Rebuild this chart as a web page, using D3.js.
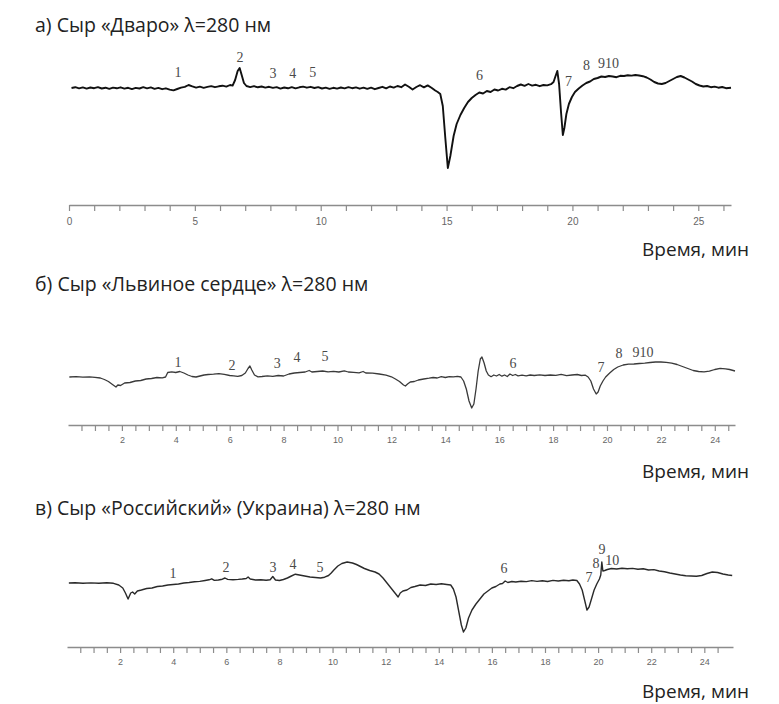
<!DOCTYPE html>
<html>
<head>
<meta charset="utf-8">
<script src="https://cdn.jsdelivr.net/npm/d3@7"></script>
<style>
  body { margin: 0; background: #fff; }
</style>
</head>
<body>
<div id="chart"></div>
<script>
// chromatogram traces, [time min, signal]
let traceA = [[0.1,0],[0.25,0.8],[0.4,-0.4],[0.55,0.6],[0.7,-0.6],[0.85,0.5],[1.0,-0.2],[1.15,0.9],[1.3,-0.5],[1.45,0.3],[1.6,-0.9],[1.75,0.4],[1.9,-0.3],[2.05,0.7],[2.2,-0.6],[2.35,0.2],[2.5,-1.1],[2.65,0.1],[2.8,-0.5],[2.95,0.8],[3.1,-0.3],[3.25,0.6],[3.4,-0.8],[3.55,0.1],[3.7,-1.2],[3.85,-0.3],[4.0,-1.6],[4.15,-2.4],[4.3,-1.0],[4.45,0.3],[4.6,1.2],[4.75,3.0],[4.9,1.6],[5.05,0.4],[5.2,1.3],[5.35,0.2],[5.5,1.1],[5.65,1.9],[5.8,0.8],[5.95,1.7],[6.1,2.3],[6.25,1.4],[6.4,3.0],[6.5,2.4],[6.6,8],[6.7,17],[6.78,20],[6.86,13],[6.95,5],[7.05,2.0],[7.2,0.9],[7.35,1.8],[7.5,0.7],[7.65,1.5],[7.8,0.4],[7.95,1.2],[8.1,0.1],[8.25,0.9],[8.4,-0.6],[8.55,0.5],[8.7,-0.3],[8.85,0.9],[9.0,-0.4],[9.15,0.7],[9.3,1.4],[9.45,0.3],[9.6,1.2],[9.75,0.0],[9.9,0.9],[10.05,-0.5],[10.2,0.4],[10.35,-0.9],[10.5,0.2],[10.65,-0.6],[10.8,0.5],[10.95,-0.4],[11.1,0.8],[11.25,-0.2],[11.4,0.6],[11.55,-0.7],[11.7,0.4],[11.85,-0.9],[12.0,0.3],[12.15,-1.2],[12.3,0.0],[12.45,1.2],[12.6,-0.4],[12.75,1.5],[12.9,0.4],[13.05,2.0],[13.2,0.8],[13.35,3.5],[13.5,1.2],[13.65,-1.5],[13.8,1.0],[13.95,2.8],[14.1,0.6],[14.25,2.6],[14.4,0.2],[14.55,-2.5],[14.65,-4],[14.75,-6],[14.85,-18],[14.95,-50],[15.05,-80],[15.15,-68],[15.28,-48],[15.4,-36],[15.55,-27],[15.7,-20],[15.85,-14],[16.0,-10],[16.15,-7],[16.3,-4.5],[16.45,-5.5],[16.6,-3.0],[16.75,-4.0],[16.9,-1.5],[17.05,-2.5],[17.2,-0.8],[17.35,-1.6],[17.5,0.8],[17.65,-0.2],[17.8,2.0],[17.95,3.5],[18.1,2.2],[18.25,4.0],[18.4,2.4],[18.55,3.2],[18.7,1.8],[18.85,3.0],[19.0,2.6],[19.15,3.8],[19.25,6],[19.33,12],[19.4,17],[19.47,4],[19.55,-25],[19.62,-47],[19.68,-40],[19.76,-26],[19.86,-16],[19.98,-9],[20.1,-4],[20.25,-0.5],[20.4,2.5],[20.55,5],[20.7,6.5],[20.85,9],[21.0,10],[21.15,11.5],[21.3,11],[21.45,12],[21.6,11.5],[21.75,10.8],[21.9,12.2],[22.05,12],[22.2,12.8],[22.35,12.4],[22.5,13],[22.65,12.5],[22.8,11.8],[22.95,10.5],[23.1,8.5],[23.25,6],[23.4,4.5],[23.55,4],[23.7,5],[23.85,7],[24.0,9],[24.15,11],[24.3,12],[24.45,10.5],[24.6,8.5],[24.75,6.5],[24.9,4],[25.05,2.5],[25.2,1.5],[25.35,2],[25.5,0.8],[25.65,1.4],[25.8,0.3],[25.95,1.0],[26.1,-0.2],[26.3,0.3]]

let traceB = [[0.05,0],[0.3,0.3],[0.55,-0.2],[0.8,0.2],[1.0,-0.3],[1.2,-1],[1.35,-2.5],[1.5,-4.5],[1.65,-7.5],[1.78,-10],[1.85,-8],[1.95,-8.5],[2.1,-6],[2.3,-5.5],[2.5,-4],[2.7,-3.5],[2.9,-2],[3.1,-1.5],[3.3,-0.5],[3.5,-0.8],[3.62,0],[3.7,4.5],[3.85,5.2],[4.0,4.5],[4.15,5.5],[4.3,4],[4.45,2],[4.6,0.5],[4.75,0],[4.9,1],[5.05,2],[5.2,2.5],[5.4,2.8],[5.6,3.4],[5.8,2.6],[6.0,1.5],[6.15,1.2],[6.3,0.6],[6.45,1.5],[6.58,4],[6.68,8.5],[6.75,11],[6.82,7],[6.92,2],[7.05,0.2],[7.2,0.5],[7.4,1.2],[7.6,0.6],[7.8,1.5],[8.0,1.0],[8.2,3],[8.4,4],[8.6,4.5],[8.8,5],[8.95,6.5],[9.05,5],[9.25,5.5],[9.45,6],[9.65,5.2],[9.85,5.6],[10.05,5],[10.25,6.2],[10.4,5],[10.6,4.6],[10.8,4.2],[10.95,5.5],[11.05,4],[11.3,3.8],[11.55,3],[11.8,1.8],[12.0,0.2],[12.15,-2],[12.3,-4.5],[12.45,-8],[12.52,-9],[12.6,-7],[12.7,-5],[12.85,-4.5],[13.0,-3],[13.2,-2],[13.4,-1.2],[13.55,-0.5],[13.7,-1],[13.85,0.3],[14.0,-0.5],[14.15,0.4],[14.3,0.1],[14.45,0.6],[14.58,0],[14.68,-4],[14.78,-12],[14.88,-24],[14.98,-31],[15.06,-27],[15.14,-12],[15.22,6],[15.3,18],[15.36,20],[15.44,14],[15.52,6],[15.6,2],[15.7,0.3],[15.8,2],[15.9,1],[16.0,2.5],[16.1,0.8],[16.2,2],[16.3,0.5],[16.4,3],[16.5,1.5],[16.6,2.5],[16.7,1.2],[16.85,1.8],[17.0,1.2],[17.15,2],[17.3,1.5],[17.5,2.2],[17.7,1.5],[17.9,2],[18.1,1.6],[18.3,2.6],[18.5,1.4],[18.7,2],[18.9,2.5],[19.05,1.5],[19.2,1.8],[19.3,0],[19.4,-4],[19.5,-12],[19.6,-17],[19.67,-15],[19.75,-9],[19.85,-4],[19.95,0],[20.1,4],[20.25,7.5],[20.4,10],[20.6,12],[20.8,12.8],[21.0,13],[21.2,13.5],[21.4,13.8],[21.6,14.5],[21.8,15],[22.0,15],[22.2,14.6],[22.4,13.8],[22.6,12.5],[22.8,10.5],[23.0,8.5],[23.2,6.5],[23.4,5.5],[23.6,5.2],[23.8,5.8],[24.0,7.5],[24.2,8.6],[24.4,8.2],[24.55,7.5],[24.75,6]]

let traceC = [[0.07,0],[0.3,0.2],[0.6,-0.2],[0.9,0.1],[1.2,-0.2],[1.5,0.2],[1.75,-0.3],[1.95,-2],[2.1,-5],[2.2,-10],[2.3,-16],[2.4,-10],[2.47,-9],[2.55,-11],[2.65,-8],[2.8,-7],[3.0,-5.5],[3.2,-5],[3.4,-3.5],[3.6,-3],[3.8,-2],[4.0,-1.5],[4.2,-1],[4.4,0],[4.6,0.5],[4.8,1.2],[5.0,1.6],[5.2,2.5],[5.35,3.2],[5.45,4.2],[5.55,2.6],[5.7,3],[5.85,3.8],[5.95,5],[6.05,3.6],[6.25,3.2],[6.45,3.6],[6.6,4],[6.75,4.5],[6.82,6],[6.9,4],[7.1,3],[7.3,3.2],[7.5,2.8],[7.65,3.2],[7.75,6.5],[7.85,3],[8.0,2.5],[8.15,3.5],[8.3,5],[8.45,7],[8.6,8.8],[8.75,8],[8.95,7],[9.15,6],[9.35,5.5],[9.55,5],[9.7,5.8],[9.85,7.5],[9.95,10],[10.05,13],[10.2,17],[10.35,19.5],[10.55,21],[10.75,20],[10.9,18.5],[11.05,16.5],[11.2,14.5],[11.4,12.5],[11.6,11],[11.75,9],[11.9,5],[12.05,0],[12.2,-5],[12.35,-10],[12.47,-14],[12.55,-10],[12.65,-8],[12.8,-7],[12.95,-4.5],[13.1,-3.5],[13.3,-2],[13.5,-2.5],[13.7,-1],[13.9,-1.5],[14.1,-0.8],[14.3,-1.5],[14.45,-2],[14.55,-6],[14.65,-14],[14.75,-28],[14.85,-42],[14.93,-49],[15.02,-45],[15.12,-35],[15.25,-27],[15.4,-21],[15.55,-16],[15.7,-11],[15.85,-8],[16.0,-5],[16.15,-3.5],[16.3,-1],[16.4,-0.5],[16.5,2],[16.6,0.5],[16.75,1.5],[16.9,1],[17.1,1.8],[17.3,1.4],[17.5,2.4],[17.7,1.6],[17.9,2.2],[18.1,1.5],[18.3,2.6],[18.5,2],[18.7,2.8],[18.9,2.2],[19.05,3],[19.2,2.5],[19.3,-1],[19.4,-7],[19.5,-18],[19.58,-27],[19.66,-24],[19.75,-16],[19.85,-7],[19.95,-1],[20.05,4],[20.1,8],[20.14,21],[20.18,12],[20.25,12.5],[20.35,13.5],[20.5,14.5],[20.7,14],[20.9,14.8],[21.1,14.2],[21.3,14.6],[21.5,13.8],[21.7,14.2],[21.9,13],[22.1,13.4],[22.3,12],[22.5,11.2],[22.7,10],[22.9,9],[23.1,8],[23.3,7.2],[23.5,7],[23.7,6.8],[23.9,7.5],[24.1,9.5],[24.3,11],[24.5,10.5],[24.7,9],[24.9,8],[25.05,7.5]]

// peak numbers: [label, time, signal]
let peaksA = [['1',4.33,16],['2',6.79,31],['3',8.1,15],['4',8.89,15],['5',9.68,16],['6',16.31,13],['7',19.84,7],['8',20.56,23],['910',21.43,25]]
let peaksB = [['1',4.08,15],['2',6.09,12],['3',7.76,14],['4',8.5,20],['5',9.54,21],['6',16.51,14],['7',19.78,10],['8',20.45,24],['910',21.34,25]]
let peaksC = [['1',3.99,10],['2',5.99,16],['3',7.76,16],['4',8.51,19],['5',9.53,16],['6',16.46,15],['7',19.66,6],['8',19.92,20],['9',20.15,34],['10',20.53,23]]

let titles = ['а) Сыр «Дваро» λ=280 нм', 'б) Сыр «Львиное сердце» λ=280 нм', 'в) Сыр «Российский» (Украина) λ=280 нм']
let axisTitle = 'Время, мин'

let minorA = d3.range(0, 27, 1)
let labelsA = [0, 5, 10, 15, 20, 25]
let minorBC = d3.range(0.5, 25, 0.5)
let labelsBC = [2, 4, 6, 8, 10, 12, 14, 16, 18, 20, 22, 24]

let svg = d3.select('#chart').append('svg')
    .attr('width', 779)
    .attr('height', 704)
    .style('background', '#fff')

let panels = [
    {trace: traceA, peaks: peaksA, tMax: 26.3, x0: 69, x1: 731, base: 88, axisY: 205,
     ticks: minorA, labels: labelsA, stroke: '#111', width: 1.9, tickFont: 10, tickDy: 13, titleY: 32, unitY: 256},
    {trace: traceB, peaks: peaksB, tMax: 24.75, x0: 68, x1: 735, base: 377, axisY: 425,
     ticks: minorBC, labels: labelsBC, stroke: '#3a3a3a', width: 1.3, tickFont: 9, tickDy: 12, titleY: 291, unitY: 478},
    {trace: traceC, peaks: peaksC, tMax: 25.08, x0: 67, x1: 733, base: 583, axisY: 647,
     ticks: minorBC, labels: labelsBC, stroke: '#2a2a2a', width: 1.4, tickFont: 9, tickDy: 12, titleY: 515, unitY: 698}
]

panels.forEach((p, idx)=>{
    let scX = d3.scaleLinear().domain([0, p.tMax]).range([p.x0, p.x1])
    let scY = d3.scaleLinear().domain([-100, 100]).range([p.base + 100, p.base - 100])

    svg.append('text')
        .attr('x', 35)
        .attr('y', p.titleY)
        .attr('font-family', 'Open Sans')
        .attr('font-size', '19.5px')
        .attr('fill', '#222')
        .text(titles[idx])

    svg.append('text')
        .attr('x', 749)
        .attr('y', p.unitY)
        .attr('text-anchor', 'end')
        .attr('font-family', 'Open Sans')
        .attr('font-size', '19px')
        .attr('fill', '#222')
        .text(axisTitle)

    // axis: minor ticks, then labels at selected values
    let axis = d3.axisBottom(scX)
        .tickValues(p.ticks)
        .tickSize(6)
        .tickSizeOuter(0)
        .tickFormat(d=>p.labels.includes(d) ? d : '')
    let gAx = svg.append('g')
        .attr('transform', `translate(0, ${p.axisY})`)
        .call(axis)
    gAx.select('.domain')
        .attr('stroke', '#8c8c8c')
        .attr('stroke-width', 1.6)
    gAx.selectAll('.tick line')
        .attr('stroke', '#8c8c8c')
        .attr('stroke-width', 1.2)
    gAx.selectAll('.tick text')
        .attr('y', p.tickDy)
        .attr('font-family', 'Liberation Sans')
        .attr('font-size', p.tickFont + 'px')
        .attr('fill', '#666')

    let line = d3.line()
        .x(d=>scX(d[0]))
        .y(d=>scY(d[1]))
    svg.append('path')
        .datum(p.trace)
        .attr('d', line)
        .attr('fill', 'none')
        .attr('stroke', p.stroke)
        .attr('stroke-width', p.width)
        .attr('stroke-linejoin', 'round')

    svg.append('g').selectAll('text')
        .data(p.peaks)
        .enter()
        .append('text')
        .attr('x', d=>scX(d[1]))
        .attr('y', d=>scY(d[2]))
        .attr('dy', '0.35em')
        .attr('text-anchor', 'middle')
        .attr('font-family', 'Liberation Serif')
        .attr('font-size', '14px')
        .attr('fill', '#4a4a4a')
        .text(d=>d[0])
})
</script>
</body>
</html>
